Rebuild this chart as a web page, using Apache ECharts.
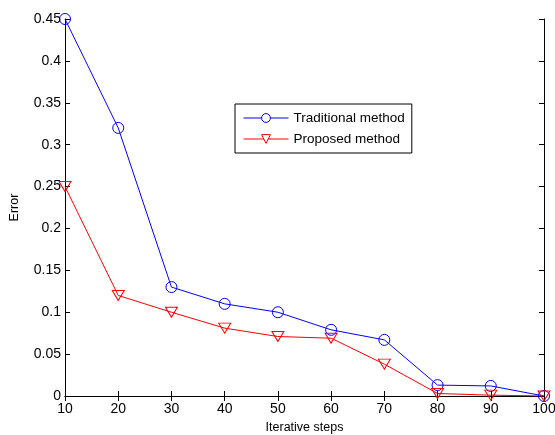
<!DOCTYPE html>
<html>
<head>
<meta charset="utf-8">
<script src="https://cdn.jsdelivr.net/npm/echarts@6/dist/echarts.min.js"></script>
<style>
  html, body { margin: 0; padding: 0; background: #fff; }
  #chart { width: 555px; height: 435px; }
</style>
</head>
<body>
<div id="chart"></div>
<script>
// iterative steps on the x axis
var steps = [10, 20, 30, 40, 50, 60, 70, 80, 90, 100];
// error values
var traditional = [0.45, 0.32, 0.13, 0.11, 0.10, 0.079, 0.067, 0.013, 0.012, 0];
var proposed = [0.25, 0.12, 0.10, 0.081, 0.071, 0.069, 0.038, 0.003, 0.001, 0];

var toPairs = function (ys) {
    return steps.map(function (x, i) { return [x, ys[i]]; });
};

var font = 'Liberation Sans, Arial, sans-serif';
var fmtY = function (v) { return String(+v.toFixed(2)); };

var chart = echarts.init(document.getElementById('chart'));
var option = {
    animation: false,
    backgroundColor: '#fff',
    textStyle: { fontFamily: font },
    grid: { left: 65, right: 11, top: 19, bottom: 39, outerBoundsMode: 'none', containLabel: false },
    legend: {
        orient: 'vertical',
        left: 235,
        top: 104,
        padding: [7, 7, 7, 8],
        itemGap: 7,
        itemWidth: 45,
        itemHeight: 11,
        borderColor: '#000',
        borderWidth: 1,
        borderRadius: 0,
        itemStyle: { borderWidth: 1 },
        lineStyle: { width: 1 },
        textStyle: { fontFamily: font, fontSize: 13.5, color: '#000' },
        data: [
            { name: 'Traditional method', itemStyle: { borderWidth: 1, color: '#fff', borderColor: '#0000ff' } },
            { name: 'Proposed method', itemStyle: { borderWidth: 1, color: '#fff', borderColor: '#ff0000' } }
        ]
    },
    xAxis: [{
        type: 'value', min: 10, max: 100, interval: 10,
        name: 'Iterative steps', nameLocation: 'middle', nameGap: 25,
        nameTextStyle: { fontFamily: font, fontSize: 12.5, color: '#000' },
        axisLine: { lineStyle: { color: '#000', width: 1 } },
        axisTick: { inside: true, length: 5, lineStyle: { color: '#000' } },
        axisLabel: { fontFamily: font, fontSize: 14, color: '#000', margin: 6 },
        splitLine: { show: false }
    }, {
        type: 'value', position: 'top', min: 10, max: 100, interval: 10,
        axisLine: { lineStyle: { color: '#000', width: 1 } },
        axisTick: { inside: true, length: 5, lineStyle: { color: '#000' } },
        axisLabel: { show: false },
        splitLine: { show: false }
    }],
    yAxis: [{
        type: 'value', min: 0, max: 0.45, interval: 0.05,
        name: 'Error', nameLocation: 'middle', nameGap: 44, nameRotate: 90,
        nameTextStyle: { fontFamily: font, fontSize: 12.5, color: '#000' },
        axisLine: { show: true, lineStyle: { color: '#000', width: 1 } },
        axisTick: { show: true, inside: true, length: 5, lineStyle: { color: '#000' } },
        axisLabel: { fontFamily: font, fontSize: 14, color: '#000', margin: 4, formatter: fmtY },
        splitLine: { show: false }
    }, {
        type: 'value', position: 'right', min: 0, max: 0.45, interval: 0.05,
        axisLine: { show: true, lineStyle: { color: '#000', width: 1 } },
        axisTick: { show: true, inside: true, length: 5, lineStyle: { color: '#000' } },
        axisLabel: { show: false },
        splitLine: { show: false }
    }],
    series: [{
        name: 'Traditional method',
        type: 'line',
        data: toPairs(traditional),
        symbol: 'circle',
        symbolSize: 11,
        color: '#0000ff',
        lineStyle: { color: '#0000ff', width: 1 },
        itemStyle: { color: 'rgba(255,255,255,0)', borderColor: '#0000ff', borderWidth: 1 }
    }, {
        name: 'Proposed method',
        type: 'line',
        data: toPairs(proposed),
        symbol: 'triangle',
        symbolRotate: 180,
        symbolSize: [12, 10],
        color: '#ff0000',
        lineStyle: { color: '#ff0000', width: 1 },
        itemStyle: { color: 'rgba(255,255,255,0)', borderColor: '#ff0000', borderWidth: 1 }
    }]
};
chart.setOption(option);
</script>
</body>
</html>
